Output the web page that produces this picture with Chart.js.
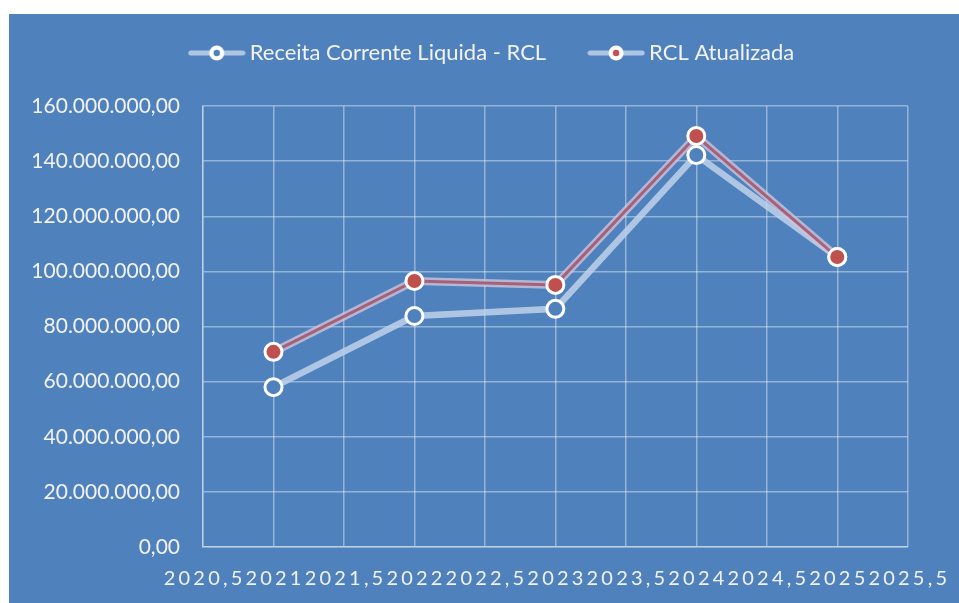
<!DOCTYPE html>
<html>
<head>
<meta charset="utf-8">
<script src="https://cdn.jsdelivr.net/npm/chart.js@4.4.1/dist/chart.umd.min.js"></script>
<style>
  html, body { margin: 0; padding: 0; background: #ffffff; }
  canvas { display: block; }
</style>
</head>
<body>
<canvas id="rclChart" width="959" height="603"></canvas>
<script>
// dados
const anos = [2021, 2022, 2023, 2024, 2025];
const rcl = [58000000, 83800000, 86400000, 142200000, 105200000];
const rclAtualizada = [70800000, 96500000, 95100000, 149100000, 105200000];
const xTickLabels = ["2020,5", "2021", "2021,5", "2022", "2022,5", "2023", "2023,5", "2024", "2024,5", "2025", "2025,5"];
const yTickLabels = ["0,00", "20.000.000,00", "40.000.000,00", "60.000.000,00", "80.000.000,00",
  "100.000.000,00", "120.000.000,00", "140.000.000,00", "160.000.000,00"];

const AZUL = "#4f81bd";
const VERMELHO = "#c0504d";
const LINHA_CLARA = "rgba(190, 210, 235, 0.85)";
const GRADE = "rgba(255, 255, 255, 0.4)";
const TEXTO = "#f2f2f2";
const FONTE = "Lato, 'Open Sans', sans-serif";

function toPoints(valores) {
  return anos.map((ano, i) => ({ x: ano, y: valores[i] }));
}

// simbolo da legenda: linha + marcador
function legendSymbol(miolo) {
  const c = document.createElement("canvas");
  c.width = 58;
  c.height = 18;
  const g = c.getContext("2d");
  g.strokeStyle = LINHA_CLARA;
  g.lineWidth = 5;
  g.lineCap = "round";
  g.beginPath();
  g.moveTo(3, 9);
  g.lineTo(55, 9);
  g.stroke();
  g.fillStyle = "#ffffff";
  g.beginPath();
  g.arc(29, 9, 7.5, 0, Math.PI * 2);
  g.fill();
  g.fillStyle = miolo;
  g.beginPath();
  g.arc(29, 9, 3.2, 0, Math.PI * 2);
  g.fill();
  return c;
}
const simbolos = [legendSymbol(AZUL), null, legendSymbol(VERMELHO)];

const fundoPlugin = {
  id: "fundo",
  afterInit(chart) {
    // altura fixa da legenda -> topo da área do gráfico em y=106
    const legenda = chart.legend;
    const fitOriginal = legenda.fit.bind(legenda);
    legenda.fit = function () {
      fitOriginal();
      this.height = 112;
    };
  },
  afterLayout(chart) {
    // legenda centrada na largura toda, como no original
    chart.legend.left += 36;
    chart.legend.right += 36;
  },
  beforeDraw(chart) {
    const ctx = chart.ctx;
    ctx.save();
    ctx.fillStyle = "#ffffff";
    ctx.fillRect(0, 0, chart.width, chart.height);
    ctx.fillStyle = AZUL;
    ctx.fillRect(9, 14, chart.width - 9, chart.height - 14);
    ctx.restore();

    // espaçamento entre letras só no eixo x
    const xs = chart.scales.x;
    if (xs && !xs._espacado) {
      const original = xs.drawLabels.bind(xs);
      xs.drawLabels = function (area) {
        chart.ctx.save();
        chart.ctx.letterSpacing = "3.2px";
        chart.ctx.translate(1.6, 0);
        original(area);
        chart.ctx.restore();
      };
      xs._espacado = true;
    }
  }
};

const ctx = document.getElementById("rclChart").getContext("2d");

new Chart(ctx, {
  type: "line",
  data: {
    datasets: [
      {
        label: "Receita Corrente Liquida - RCL",
        data: toPoints(rcl),
        borderColor: LINHA_CLARA,
        borderWidth: 6.5,
        pointRadius: 8.5,
        pointBorderWidth: 3,
        pointBorderColor: "#ffffff",
        pointBackgroundColor: AZUL,
        order: 3
      },
      {
        // brilho claro por baixo da linha vermelha
        label: "halo",
        data: toPoints(rclAtualizada),
        borderColor: "rgba(205, 195, 220, 0.8)",
        borderWidth: 8,
        pointRadius: 0,
        order: 2
      },
      {
        label: "RCL Atualizada",
        data: toPoints(rclAtualizada),
        borderColor: "rgba(165, 75, 95, 0.8)",
        borderWidth: 3,
        pointRadius: 8.5,
        pointBorderWidth: 3,
        pointBorderColor: "#ffffff",
        pointBackgroundColor: VERMELHO,
        order: 1
      }
    ]
  },
  options: {
    responsive: false,
    devicePixelRatio: 1,
    animation: false,
    events: [],
    layout: {
      padding: { left: 9, right: 51, top: -6, bottom: 0 }
    },
    plugins: {
      legend: {
        position: "top",
        reverse: true,
        labels: {
          generateLabels(chart) {
            const itens = Chart.defaults.plugins.legend.labels.generateLabels(chart);
            itens.forEach((item) => { item.pointStyle = simbolos[item.datasetIndex]; });
            return itens;
          },
          filter: (item) => item.text !== "halo",
          usePointStyle: true,
          pointStyleWidth: 44,
          padding: 48,
          color: TEXTO,
          font: { family: FONTE, size: 22 }
        }
      },
      tooltip: { enabled: false }
    },
    scales: {
      x: {
        type: "linear",
        min: 2020.5,
        max: 2025.5,
        afterBuildTicks(scale) {
          scale.ticks = xTickLabels.map((_, i) => ({ value: 2020.5 + i * 0.5 }));
        },
        afterFit(scale) {
          scale.height = 56;
        },
        grid: { color: GRADE, lineWidth: 1.5, drawTicks: false },
        border: { color: GRADE, width: 1.5 },
        ticks: {
          autoSkip: false,
          maxRotation: 0,
          padding: 20,
          color: TEXTO,
          font: { family: FONTE, size: 20 },
          callback: (value, index) => xTickLabels[index]
        }
      },
      y: {
        min: 0,
        max: 160000000,
        afterBuildTicks(scale) {
          scale.ticks = yTickLabels.map((_, i) => ({ value: i * 20000000 }));
        },
        afterFit(scale) {
          scale.width = 194;
        },
        grid: { color: GRADE, lineWidth: 1.5, drawTicks: false },
        border: { color: GRADE, width: 1.5 },
        ticks: {
          padding: 23,
          color: TEXTO,
          font: { family: FONTE, size: 21 },
          callback: (value, index) => yTickLabels[index]
        }
      }
    }
  },
  plugins: [fundoPlugin]
});
</script>
</body>
</html>
